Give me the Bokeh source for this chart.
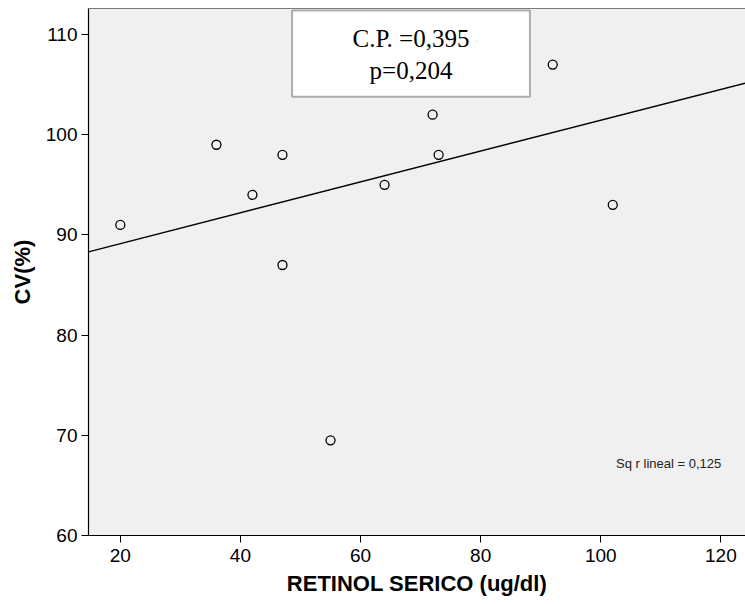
from bokeh.plotting import figure
from bokeh.models import Range1d, FixedTicker, BoxAnnotation, Label, Span
from bokeh.embed import file_html
from bokeh.resources import INLINE
import numpy as np

# Data
retinol = [20, 36, 42, 47, 47, 55, 64, 72, 73, 92, 102]
cv = [91, 99, 94, 98, 87, 69.5, 95, 102, 98, 107, 93]
fit_intercept = 86.05
fit_slope = 0.154
x_ticks = [20, 40, 60, 80, 100, 120]
y_ticks = [60, 70, 80, 90, 100, 110]
stat_lines = ["C.P. =0,395", "p=0,204"]
r2_text = "Sq r lineal = 0,125"

x_lo, x_hi = 14.7, 124.1
y_lo, y_hi = 60, 112.6

p = figure(width=745, height=604, output_backend="svg", toolbar_location=None,
           x_range=Range1d(x_lo, x_hi), y_range=Range1d(y_lo, y_hi),
           min_border_left=88, min_border_right=0, min_border_top=8, min_border_bottom=69)
p.background_fill_color = "#f0f0f0"
p.border_fill_color = "white"
p.outline_line_color = None
p.grid.visible = False

# top border of the plot frame (no right border visible in the reference)
p.add_layout(Span(location=y_hi, dimension="width", line_color="black", line_width=1.2))

for ax in (p.xaxis, p.yaxis):
    ax.major_tick_in = 0
    ax.major_tick_out = 7
    ax.minor_tick_line_color = None
    ax.axis_line_color = "black"
    ax.axis_line_width = 1.2
    ax.major_tick_line_color = "black"
    ax.major_label_text_font = "Liberation Sans"
    ax.major_label_text_font_size = "19px"
    ax.major_label_text_color = "black"
    ax.axis_label_text_font = "Liberation Sans"
    ax.axis_label_text_font_style = "bold"
    ax.axis_label_text_font_size = "22px"
    ax.axis_label_text_color = "black"

p.xaxis.ticker = FixedTicker(ticks=x_ticks)
p.yaxis.ticker = FixedTicker(ticks=y_ticks)
p.xaxis.axis_label = "RETINOL SERICO (ug/dl)"
p.yaxis.axis_label = "CV(%)"
p.xaxis.major_label_standoff = 6
p.xaxis.axis_label_standoff = 6
p.yaxis.major_label_standoff = 4
p.yaxis.axis_label_standoff = 8

# regression line
xs = np.array([x_lo, x_hi])
p.line(xs, fit_intercept + fit_slope * xs, line_color="black", line_width=1.4)

# points
p.scatter(retinol, cv, marker="circle", size=9, fill_color=None,
          line_color="black", line_width=1.3)

# stats box
p.add_layout(BoxAnnotation(left=48.6, right=88.2, top=112.4, bottom=103.8,
                           fill_color="white", fill_alpha=1.0,
                           line_color="black", line_width=2))
p.add_layout(Label(x=68.4, y=109.6, text=stat_lines[0], text_align="center",
                   text_baseline="middle", text_font="Liberation Serif",
                   text_font_size="25px", text_color="black"))
p.add_layout(Label(x=68.4, y=106.4, text=stat_lines[1], text_align="center",
                   text_baseline="middle", text_font="Liberation Serif",
                   text_font_size="25px", text_color="black"))

p.add_layout(Label(x=111.3, y=67.2, text=r2_text, text_align="center",
                   text_baseline="middle", text_font="Liberation Sans",
                   text_font_size="13px", text_color="#222222"))

open("out.html", "w").write(file_html(p, INLINE))
